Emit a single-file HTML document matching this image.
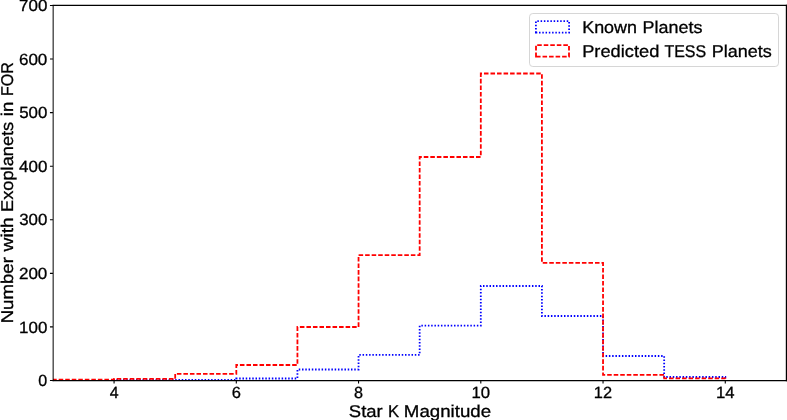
<!DOCTYPE html>
<html><head><meta charset="utf-8"><style>
html,body{margin:0;padding:0;background:#fff;width:787px;height:420px;overflow:hidden}
svg{display:block}
text{font-family:"Liberation Sans",sans-serif}
</style></head><body>
<div style="will-change:transform;width:787px;height:420px"><svg width="787" height="420" viewBox="0 0 787 420"><rect width="787" height="420" fill="#fff"/><clipPath id="ax"><rect x="52.95" y="5.45" width="733.45" height="375.15"/></clipPath><g clip-path="url(#ax)"><path d="M52.95 380.50 V381.00 H114.07 V379.80 H175.19 V379.80 H236.31 V378.50 H297.43 V369.50 H358.55 V354.95 H419.67 V325.60 H480.80 V286.00 H541.92 V316.00 H603.04 V356.00 H664.16 V377.00 H725.28 V380.50" fill="none" stroke="#0000ff" stroke-width="1.80" stroke-dasharray="1.500 1.765" stroke-dashoffset="0.134"/><path d="M52.95 380.50 V379.70 H114.07 V378.90 H175.19 V373.80 H236.31 V365.00 H297.43 V327.00 H358.55 V255.10 H419.67 V157.00 H480.80 V73.50 H541.92 V262.90 H603.04 V374.80 H664.16 V378.30 H725.28 V380.50" fill="none" stroke="#ff0000" stroke-width="1.80" stroke-dasharray="4.559 1.972"/></g><g stroke="#000" fill="none" stroke-linecap="square"><path d="M53.15 5.45 V380.65" stroke-width="1.0"/><path d="M786.40 5.45 V380.65" stroke-width="1.2"/><path d="M53.15 5.45 H786.40" stroke-width="1.3"/><path d="M53.15 380.65 H786.40" stroke-width="1.35"/></g><path d="M114.07 380.50 v3.0 M236.31 380.50 v3.0 M358.55 380.50 v3.0 M480.80 380.50 v3.0 M603.04 380.50 v3.0 M725.28 380.50 v3.0 M52.95 380.50 h-3.0 M52.95 326.92 h-3.0 M52.95 273.34 h-3.0 M52.95 219.76 h-3.0 M52.95 166.19 h-3.0 M52.95 112.61 h-3.0 M52.95 59.03 h-3.0 M52.95 5.45 h-3.0" stroke="#000" stroke-width="1.10" fill="none"/><rect x="529.50" y="13.50" width="249.00" height="53.00" rx="3.3" ry="3.3" fill="#fff" fill-opacity="0.8" stroke="#d6d6d6" stroke-width="1"/><path d="M535.90 32.60 H569.10 V21.10 H535.90 Z" fill="none" stroke="#0000ff" stroke-width="1.80" stroke-dasharray="1.500 1.765" stroke-dashoffset="0.134"/><path d="M536.00 56.70 H569.00 V45.10 H536.00 Z" fill="none" stroke="#ff0000" stroke-width="1.80" stroke-dasharray="4.559 1.972"/><g font-family="Liberation Sans, sans-serif" fill="#000" stroke="#000" stroke-width="0.3" text-rendering="geometricPrecision"><text transform="translate(109.64 397.75) scale(0.9847 1)" font-size="16.20">4</text><text transform="translate(231.72 397.75) scale(1.0194 1)" font-size="16.20">6</text><text transform="translate(354.06 397.75) scale(0.9982 1)" font-size="16.20">8</text><text transform="translate(471.54 397.75) scale(1.0323 1)" font-size="16.20">10</text><text transform="translate(593.81 397.75) scale(1.0121 1)" font-size="16.20">12</text><text transform="translate(716.03 397.75) scale(1.0314 1)" font-size="16.20">14</text><text transform="translate(38.37 386.17) scale(0.9923 1)" font-size="16.20">0</text><text transform="translate(19.09 332.59) scale(1.0454 1)" font-size="16.20">100</text><text transform="translate(18.94 279.02) scale(1.0511 1)" font-size="16.20">200</text><text transform="translate(19.19 225.44) scale(1.0414 1)" font-size="16.20">300</text><text transform="translate(19.07 171.86) scale(1.0463 1)" font-size="16.20">400</text><text transform="translate(19.19 118.28) scale(1.0415 1)" font-size="16.20">500</text><text transform="translate(18.90 64.70) scale(1.0526 1)" font-size="16.20">600</text><text transform="translate(19.05 11.12) scale(1.0468 1)" font-size="16.20">700</text><text transform="translate(348.87 417.00) scale(1.0868 1)" font-size="17.00">Star</text><text transform="translate(387.94 417.00) scale(0.9789 1)" font-size="17.00">K</text><text transform="translate(403.84 417.00) scale(1.0991 1)" font-size="17.00">Magnitude</text><text transform="translate(582.17 32.60) scale(1.0544 1)" font-size="17.00">Known</text><text transform="translate(642.53 32.60) scale(1.0551 1)" font-size="17.00">Planets</text><text transform="translate(582.19 56.70) scale(1.0734 1)" font-size="17.00">Predicted</text><text transform="translate(664.43 56.70) scale(0.9395 1)" font-size="17.00">TESS</text><text transform="translate(711.67 56.70) scale(1.0593 1)" font-size="17.00">Planets</text><text transform="translate(12.70 0) rotate(-90) translate(-323.34 0) scale(1.0959 1)" font-size="17.00">Number</text><text transform="translate(12.70 0) rotate(-90) translate(-251.42 0) scale(1.1268 1)" font-size="17.00">with</text><text transform="translate(12.70 0) rotate(-90) translate(-211.91 0) scale(1.0709 1)" font-size="17.00">Exoplanets</text><text transform="translate(12.70 0) rotate(-90) translate(-116.17 0) scale(1.0985 1)" font-size="17.00">in</text><text transform="translate(12.70 0) rotate(-90) translate(-95.97 0) scale(0.9428 1)" font-size="17.00">FOR</text></g></svg></div>
</body></html>
